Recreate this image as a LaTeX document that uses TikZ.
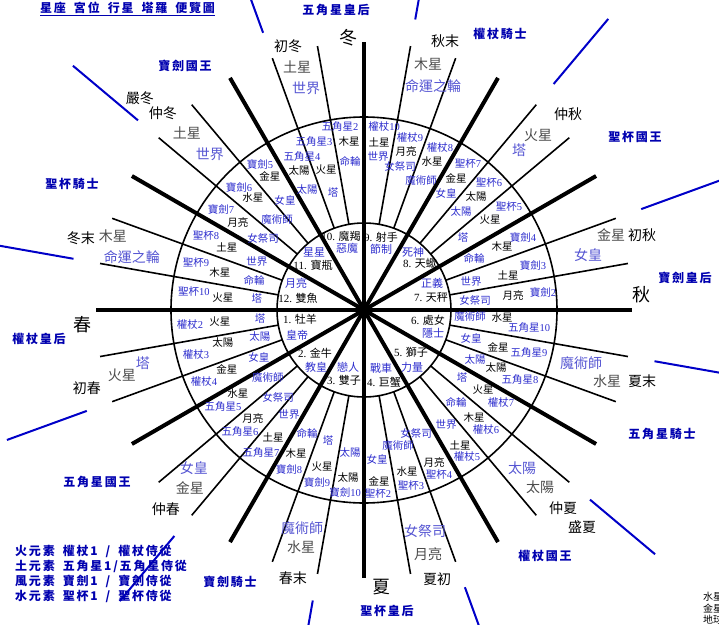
\documentclass[tikz,border=0pt]{standalone}
\usepackage{fontspec}
\setmainfont{Liberation Serif}
\newfontfamily\cjk{Noto Sans CJK TC}
\newfontfamily\cjkwide[LetterSpace=15]{Noto Sans CJK TC}
\newcommand{\zh}[1]{{\cjk #1}}
\newcommand{\wsp}{\hspace{8pt}}
\definecolor{tblue}{RGB}{45,45,205}
\definecolor{lblue}{RGB}{85,85,210}
\definecolor{cblue}{RGB}{0,0,175}
\definecolor{lineblue}{RGB}{0,0,200}

\begin{document}
\begin{tikzpicture}[x=1pt, y=1pt,
    thin ray/.style = {line width=1.6pt},
    thick ray/.style = {line width=4pt},
    ring/.style = {line width=1.6pt},
    court line/.style = {draw=lineblue, line width=2pt},
  every node/.style = {inner sep=0pt},
    minor/.style = {text=tblue, font=\fontsize{10.5}{12}\selectfont},
    planet/.style = {font=\cjk\fontsize{10.5}{12}\selectfont},
    arcana/.style = {text=tblue, font=\cjk\fontsize{10.5}{12}\selectfont},
    sign/.style = {font=\fontsize{11}{12}\selectfont},
    signcard/.style = {text=tblue, font=\cjk\fontsize{11}{12}\selectfont},
    season/.style = {font=\cjk\fontsize{14}{16}\selectfont},
    outplanet/.style = {text=black!70, font=\cjk\fontsize{14}{16}\selectfont},
    outcard/.style = {text=lblue, font=\cjk\fontsize{14}{16}\selectfont},
    cardinal/.style = {font=\cjk\fontsize{18}{20}\selectfont},
    court/.style = {text=cblue, font=\cjkwide\bfseries\fontsize{12}{14}\selectfont},
    legendrow/.style = {court, anchor=west},
    small/.style = {anchor=west, font=\cjk\fontsize{10}{11}\selectfont}]
    \useasboundingbox (-364,-314) rectangle (355,310);
    \clip (-364,-314) rectangle (355,310);

    % rings and rays
    \draw[ring] (0,0) circle (87);
    \draw[ring] (0,0) circle (193);
    \foreach \b in {0,30,...,330}
      \foreach \e in {10,20}
        \draw[thin ray] ({\b+\e}:87) -- ({\b+\e}:268);
    \foreach \b in {0,30,...,330}
      \draw[thick ray] (0,0) -- (\b:268);
    \foreach \b in {20,50,...,350}
      \draw[court line] (\b:295) -- (\b:380);

    \begin{scope}[shift={(-364,310)}, yscale=-1]
    % decans: card, planet, trump
    \foreach \suit/\num/\pla/\tar/\mx/\my/\px/\py/\ax/\ay [count=\i] in {
      權杖/2/火星/塔/190/325/220/322/260/319,
      權杖/3/太陽/太陽/196/355/223/343/260/337,
      權杖/4/金星/女皇/204/382/227/369/259/357,
      五角星/5/水星/魔術師/223/407/238/394/268/378,
      五角星/6/月亮/女祭司/240/432/253/418/278/397,
      五角星/7/土星/世界/261/453/273/437/289/415,
      寶劍/8/木星/命輪/289/469/296/454/307/433,
      寶劍/9/火星/塔/317/482/322/467/328/441,
      寶劍/10/太陽/太陽/345/492/348/478/350/453,
      聖杯/2/金星/女皇/378/493/379/481/377/459,
      聖杯/3/水星/魔術師/411/485/407/472/398/446,
      聖杯/4/月亮/女祭司/439/474/434/462/416/433,
      權杖/5/土星/世界/467/457/460/445/446/425,
      權杖/6/木星/命輪/486/430/474/418/456/402,
      權杖/7/火星/塔/501/403/483/390/462/378,
      五角星/8/太陽/太陽/520/380/496/368/475/360,
      五角星/9/金星/女皇/529/353/498/347/471/338,
      五角星/10/水星/魔術師/529/328/502/318/470/317,
      寶劍/2/月亮/女祭司/543/292/513/295/475/300,
      寶劍/3/土星/世界/533/265/508/275/471/282,
      寶劍/4/木星/命輪/523/237/502/247/474/258,
      聖杯/5/火星/塔/509/207/490/220/463/238,
      聖杯/6/太陽/太陽/489/183/476/197/461/212,
      聖杯/7/金星/女皇/468/164/456/178/446/193,
      權杖/8/水星/魔術師/440/148/432/162/421/181,
      權杖/9/月亮/女祭司/410/138/406/151/400/166,
      權杖/10/土星/世界/384/127/379/142/378/157,
      五角星/2/木星/命輪/340/127/349/142/350/161,
      五角星/3/火星/塔/314/142/326/170/333/193,
      五角星/4/太陽/太陽/302/157/299/171/307/190,
      寶劍/5/金星/女皇/260/164/270/176/285/200,
      寶劍/6/水星/魔術師/239/187/253/198/277/220,
      寶劍/7/月亮/女祭司/221/209/238/222/263/238,
      聖杯/8/土星/世界/206/236/227/247/257/262,
      聖杯/9/木星/命輪/196/263/220/273/254/280,
      聖杯/10/火星/塔/194/292/223/298/257/299} {
      \node[minor] (m\i) at (\mx,\my) {\zh{\suit}\num};
      \node[planet] (p\i) at (\px,\py) {\pla};
      \node[arcana] (t\i) at (\ax,\ay) {\tar};
    }

    % signs and their trumps
    \foreach \lab/\sx/\sy/\tar/\tx/\ty [count=\i] in {
      1. \zh{牡羊}/300/319/皇帝/297/335,
      2. \zh{金牛}/315/353/教皇/316/367,
      3. \zh{雙子}/344/380/戀人/348/367,
      4. \zh{巨蟹}/384/382/戰車/381/368,
      5. \zh{獅子}/411/352/力量/412/367,
      6. \zh{處女}/428/320/隱士/433/333,
      7. \zh{天秤}/431/297/正義/432/283,
      8. \zh{天蠍}/420/263/死神/413/252,
      9. \zh{射手}/381/237/節制/381/249,
      10. \zh{魔羯}/341/236/惡魔/347/248,
      11. \zh{寶瓶}/313/265/星星/314/252,
      12. \zh{雙魚}/298/298/月亮/296/283} {
      \node[sign] (s\i) at (\sx,\sy) {\lab};
      \node[signcard] (c\i) at (\tx,\ty) {\tar};
    }

    % seasons outside the ring
    \node[cardinal] (winter) at (348,38) {冬};
    \node[cardinal] (spring) at (83,325) {春};
    \node[cardinal] (summer) at (381,587) {夏};
    \node[cardinal] (autumn) at (641,295) {秋};
    \foreach \sea/\sx/\sy/\pla/\px/\py/\tar/\tx/\ty [count=\i] in {
      初冬/288/46/土星/297/67/世界/306/88,
      仲冬/163/113/土星/187/133/世界/210/154,
      冬末/81/238/木星/113/236/命運之輪/132/257,
      初春/87/388/火星/122/375/塔/143/363,
      仲春/166/509/金星/190/488/女皇/194/468,
      春末/293/578/水星/301/547/魔術師/302/528,
      夏初/437/579/月亮/428/554/女祭司/425/531,
      仲夏/563/508/太陽/540/487/太陽/522/468,
      夏末/642/381/水星/607/381/魔術師/581/363,
      初秋/642/235/金星/611/235/女皇/588/255,
      仲秋/568/114/火星/538/135/塔/519/150,
      秋末/445/41/木星/428/64/命運之輪/433/86} {
      \node[season] (o\i) at (\sx,\sy) {\sea};
      \node[outplanet] (op\i) at (\px,\py) {\pla};
      \node[outcard] (ot\i) at (\tx,\ty) {\tar};
    }
    \node[season] (deepwinter) at (140,98) {嚴冬};
    \node[season] (highsummer) at (582,527) {盛夏};

    % court cards
    \foreach \name/\cx/\cy [count=\i] in {
      五角星皇后/336/10, 權杖騎士/500/34, 聖杯國王/635/137,
      寶劍皇后/685/278, 五角星騎士/662/434, 權杖國王/545/556,
      聖杯皇后/387/611, 寶劍騎士/230/582, 五角星國王/97/482,
      權杖皇后/39/339, 聖杯騎士/72/184, 寶劍國王/185/66}
      \node[court] (k\i) at (\cx,\cy) {\name};

    % title and legend
    \node[court, anchor=west] (title) at (40,9) {\underline{星座\wsp 宮位\wsp 行星\wsp 塔羅\wsp 便覽圖}};
    \node[legendrow] (fire) at (15,551) {火元素\wsp 權杖1\wsp /\wsp 權杖侍從};
    \node[legendrow] (earth) at (15,566) {土元素\wsp 五角星1/五角星侍從};
    \node[legendrow] (air) at (15,581) {風元素\wsp 寶劍1\wsp /\wsp 寶劍侍從};
    \node[legendrow] (water) at (15,596) {水元素\wsp 聖杯1\wsp /\wsp 聖杯侍從};

    \node[small] (mercury) at (703,597) {水星};
    \node[small] (venus) at (703,609) {金星};
    \node[small] (earthp) at (703,620) {地球};
    \node[small] (mars) at (703,631) {火星};
    \end{scope}
\end{tikzpicture}
\end{document}
